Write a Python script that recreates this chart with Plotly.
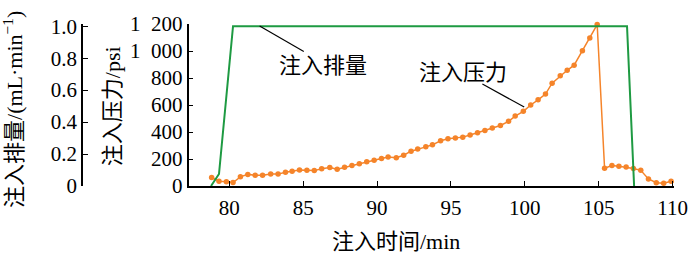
import plotly.graph_objects as go

# ---- data ----
press_t = [78.8, 79.3, 79.8, 80.25, 80.75, 81.25, 81.75, 82.25, 82.8, 83.3, 83.8, 84.25,
           84.75, 85.25, 85.75, 86.25, 86.8, 87.3, 87.8, 88.3, 88.8, 89.3, 89.8, 90.3,
           90.75, 91.3, 91.8, 92.3, 92.75, 93.3, 93.75, 94.3, 94.8, 95.3, 95.8, 96.3,
           96.8, 97.3, 97.8, 98.35, 98.9, 99.35, 99.9, 100.4, 100.9, 101.4, 101.85, 102.4,
           102.87, 103.34, 103.9, 104.4, 104.9, 105.4, 105.9, 106.37, 106.86, 107.35, 107.85,
           108.37, 108.9, 109.4, 109.9, 110.4]
press_p = [63, 35, 31, 26, 68, 86, 79, 79, 88, 88, 102, 109,
           118, 116, 114, 128, 137, 125, 139, 151, 165, 179, 190, 203,
           214, 209, 228, 258, 275, 290, 305, 335, 350, 355, 362, 378,
           394, 411, 429, 448, 479, 518, 553, 600, 638, 681, 762, 816,
           857, 895, 1001, 1097, 1196, 132, 151, 146, 140, 130, 116,
           52, 24, 21, 35, 21]

flow_t = [78.76, 79.3, 80.25, 106.92, 107.4]
flow_q = [0, 0.075, 1.0, 1.0, 0]

x_ticks = [80, 85, 90, 95, 100, 105, 110]
p_ticks = [0, 200, 400, 600, 800, 1000, 1200]
p_ticktext = ["0", "200", "400", "600", "800", "1\u2002000", "1\u2002200"]
q_ticks = [0, 0.2, 0.4, 0.6, 0.8, 1.0]
q_ticktext = ["0", "0.2", "0.4", "0.6", "0.8", "1.0"]

ORANGE = "#f5842a"
GREEN = "#1e9a42"
FONT = "Liberation Serif, Noto Sans CJK SC, serif"

fig = go.Figure()
fig.add_trace(go.Scatter(x=flow_t, y=flow_q, yaxis="y2", mode="lines",
                         line=dict(color=GREEN, width=2), showlegend=False))
fig.add_trace(go.Scatter(x=press_t, y=press_p, mode="lines+markers",
                         line=dict(color=ORANGE, width=1.5),
                         marker=dict(color=ORANGE, size=5.5),
                         cliponaxis=False, showlegend=False))

axis_common = dict(showgrid=False, zeroline=False, showline=True, linecolor="black",
                   linewidth=1.6, ticks="inside", ticklen=5, tickwidth=1.4, tickcolor="black",
                   tickfont=dict(family=FONT, size=21, color="black"))

fig.update_layout(
    width=700, height=275,
    margin=dict(l=82, r=18, t=13, b=89),
    paper_bgcolor="white", plot_bgcolor="white",
    font=dict(family=FONT, color="black"),
    xaxis=dict(domain=[0.18, 1], range=[77.24, 110.1], tickvals=x_ticks,
               ticklabelstandoff=2, **axis_common),
    yaxis=dict(range=[0, 1200], tickvals=p_ticks, ticktext=p_ticktext, anchor="x",
               **axis_common),
    yaxis2=dict(range=[0, 1.014], tickvals=q_ticks, ticktext=q_ticktext, overlaying="y",
                anchor="free", position=0, side="left", **axis_common),
)

# leader lines
fig.add_shape(type="line", xref="x", yref="y", x0=82.05, y0=1185, x1=85.04, y1=997,
              line=dict(color="black", width=1.2))
fig.add_shape(type="line", xref="x", yref="y", x0=97.13, y0=755, x1=99.96, y1=585,
              line=dict(color="black", width=1.2))

cjk = dict(family=FONT, size=22, color="black")
c = dict(showarrow=False, xanchor="center", yanchor="middle")
fig.add_annotation(x=86.33, y=896, xref="x", yref="y", text="注入排量", font=cjk, **c)
fig.add_annotation(x=95.8, y=841, xref="x", yref="y", text="注入压力", font=cjk, **c)
fig.add_annotation(x=0.53, y=-0.341, xref="paper", yref="paper", text="注入时间/min",
                   font=cjk, **c)
fig.add_annotation(x=0.0517, y=0.49, xref="paper", yref="paper", text="注入压力/psi",
                   textangle=-90, font=dict(family=FONT, size=22, color="black"), **c)
fig.add_annotation(x=-0.1167, y=0.475, xref="paper", yref="paper",
                   text="注入排量/(mL·min<sup>−1</sup>)",
                   textangle=-90, font=dict(family=FONT, size=22, color="black"), **c)

fig.write_html("out.html")
